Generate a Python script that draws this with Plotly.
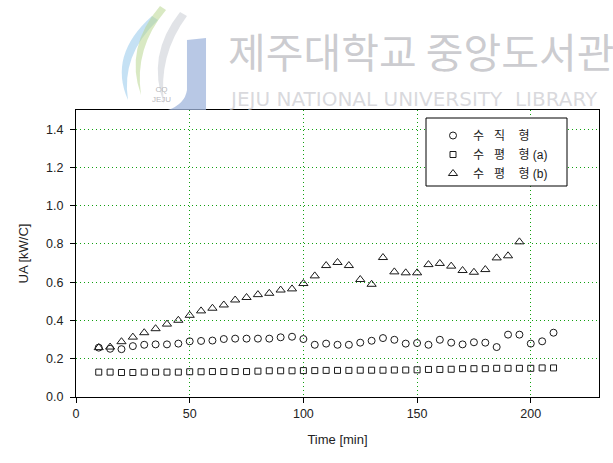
import plotly.graph_objects as go

# Sampling times [min]
time_ab = [10, 15, 20, 25, 30, 35, 40, 45, 50, 55, 60, 65, 70, 75, 80, 85, 90, 95, 100,
           105, 110, 115, 120, 125, 130, 135, 140, 145, 150, 155, 160, 165, 170, 175,
           180, 185, 190, 195, 200, 205, 210]
time_b = time_ab[:38]  # 10 ... 195

# Overall heat transfer coefficient UA [kW/C]
ua_vertical = [0.258, 0.252, 0.250, 0.266, 0.273, 0.275, 0.275, 0.279, 0.291, 0.293,
               0.295, 0.303, 0.305, 0.305, 0.305, 0.305, 0.312, 0.315, 0.303, 0.273,
               0.279, 0.273, 0.273, 0.284, 0.294, 0.308, 0.299, 0.279, 0.282, 0.273,
               0.299, 0.284, 0.275, 0.286, 0.284, 0.261, 0.326, 0.326, 0.279, 0.291,
               0.336]
ua_horizontal_a = [0.130, 0.130, 0.128, 0.128, 0.130, 0.130, 0.130, 0.130, 0.132, 0.132,
                   0.133, 0.133, 0.133, 0.133, 0.135, 0.137, 0.137, 0.137, 0.138, 0.138,
                   0.139, 0.139, 0.139, 0.140, 0.140, 0.140, 0.141, 0.141, 0.142, 0.144,
                   0.144, 0.145, 0.148, 0.148, 0.148, 0.150, 0.150, 0.150, 0.150, 0.152,
                   0.152]
ua_horizontal_b = [0.258, 0.261, 0.289, 0.313, 0.336, 0.357, 0.381, 0.401, 0.427, 0.450,
                   0.464, 0.481, 0.507, 0.520, 0.535, 0.542, 0.559, 0.565, 0.593, 0.633,
                   0.687, 0.703, 0.687, 0.614, 0.589, 0.729, 0.654, 0.649, 0.649, 0.692,
                   0.698, 0.684, 0.661, 0.652, 0.666, 0.727, 0.738, 0.811]

NB = "\u00a0"
series_names = [
    f"수{NB*3}직{NB*4}형",
    f"수{NB*3}평{NB*4}형 (a)",
    f"수{NB*3}평{NB*4}형 (b)",
]

x_ticks = [0, 50, 100, 150, 200]
y_ticks = [0.0, 0.2, 0.4, 0.6, 0.8, 1.0, 1.2, 1.4]

FONT = "Arial, 'Liberation Sans', 'Noto Sans CJK KR', sans-serif"
KR_FONT = "'Noto Sans CJK KR', sans-serif"
GRID = "#11a011"
INK = "#1a1a1a"

W, H = 613, 463
ML, MR, MT, MB = 76, 14, 110, 66
PW, PH = W - ML - MR, H - MT - MB


def px(x):
    """Horizontal page pixel -> paper fraction."""
    return (x - ML) / PW


def py(y):
    """Vertical page pixel (from top) -> paper fraction."""
    return (H - MB - y) / PH


def path(points_cmds):
    out = []
    for cmd, *pts in points_cmds:
        coords = " ".join(f"{px(a):.4f},{py(b):.4f}" for a, b in pts)
        out.append(f"{cmd} {coords}".strip())
    return " ".join(out)


fig = go.Figure()
fig.add_trace(go.Scatter(
    x=time_ab, y=ua_vertical, mode="markers", name=series_names[0],
    marker=dict(symbol="circle-open", size=7, color=INK, line=dict(width=1, color=INK)),
))
fig.add_trace(go.Scatter(
    x=time_ab, y=ua_horizontal_a, mode="markers", name=series_names[1],
    marker=dict(symbol="square-open", size=6, color=INK, line=dict(width=1, color=INK)),
))
fig.add_trace(go.Scatter(
    x=time_b, y=ua_horizontal_b, mode="markers", name=series_names[2],
    marker=dict(symbol="triangle-up-open", size=8, color=INK, line=dict(width=1, color=INK)),
))

# Library watermark above the plot: three leaf strands and a "J" bar
leaf = lambda d, col: dict(type="path", xref="paper", yref="paper", layer="above",
                           path=d, fillcolor=col, line=dict(width=0))
shapes = [
    leaf(path([("M", (152, 16)), ("Q", (108, 55), (128, 100)),
               ("Q", (121, 55), (158, 20)), ("Z",)]), "rgba(150,200,235,0.55)"),
    leaf(path([("M", (160, 6)), ("Q", (124, 48), (141, 95)),
               ("Q", (134, 48), (166, 10)), ("Z",)]), "rgba(185,215,145,0.55)"),
    leaf(path([("M", (180, 12)), ("Q", (146, 55), (164, 104)),
               ("Q", (158, 55), (187, 16)), ("Z",)]), "rgba(205,208,215,0.6)"),
    leaf(path([("M", (187, 40)), ("L", (206, 38)), ("L", (206, 110)),
               ("L", (168, 110)), ("Q", (185, 104), (187, 90)), ("Z",)]),
         "rgba(160,182,220,0.75)"),
    # legend frame
    dict(type="rect", xref="paper", yref="paper", layer="above",
         x0=px(426), x1=px(567), y0=py(186), y1=py(118),
         fillcolor="white", line=dict(color="black", width=1)),
]

annotations = [
    dict(text="제주대학교 중앙도서관", xref="paper", yref="paper", x=px(226), y=py(50),
         xanchor="left", yanchor="middle", showarrow=False,
         font=dict(family=KR_FONT, size=41, color="rgba(190,190,195,0.8)")),
    dict(text="JEJU NATIONAL UNIVERSITY  LIBRARY", xref="paper", yref="paper",
         x=px(227), y=py(99), xanchor="left", yanchor="middle", showarrow=False,
         font=dict(family="'DejaVu Sans', sans-serif", size=20,
                   color="rgba(205,205,210,0.75)")),
    dict(text="CQ<br>JEJU", xref="paper", yref="paper", x=px(161), y=py(94),
         xanchor="center", yanchor="middle", showarrow=False,
         font=dict(family=FONT, size=8, color="rgba(165,165,170,0.8)")),
]

fig.update_layout(
    width=W, height=H,
    margin=dict(l=ML, r=MR, t=MT, b=MB),
    paper_bgcolor="white", plot_bgcolor="white",
    font=dict(family=FONT, size=12, color=INK),
    showlegend=True,
    legend=dict(
        x=px(433), y=py(121), xanchor="left", yanchor="top",
        bgcolor="rgba(0,0,0,0)", borderwidth=0,
        font=dict(family=FONT, size=12, color=INK),
        itemsizing="trace", tracegroupgap=0,
    ),
    shapes=shapes,
    annotations=annotations,
)

axis_common = dict(
    showline=True, linecolor="black", linewidth=1, mirror=True,
    ticks="outside", ticklen=5, tickcolor="black",
    showgrid=True, gridcolor=GRID, griddash="1px,3px", gridwidth=1,
    zeroline=False,
    tickfont=dict(size=12.5, color="#222"),
)
fig.update_xaxes(
    range=[0, 230], tickvals=x_ticks, ticktext=[str(v) for v in x_ticks],
    title=dict(text="Time [min]", font=dict(size=13, color="#222"), standoff=14),
    **axis_common,
)
fig.update_yaxes(
    range=[0, 1.5], tickvals=y_ticks, ticktext=[f"{v:.1f}" for v in y_ticks],
    ticklabelstandoff=4,
    title=dict(text="UA [kW/C]", font=dict(size=13, color="#222"), standoff=14),
    **axis_common,
)

fig.write_html("out.html")
